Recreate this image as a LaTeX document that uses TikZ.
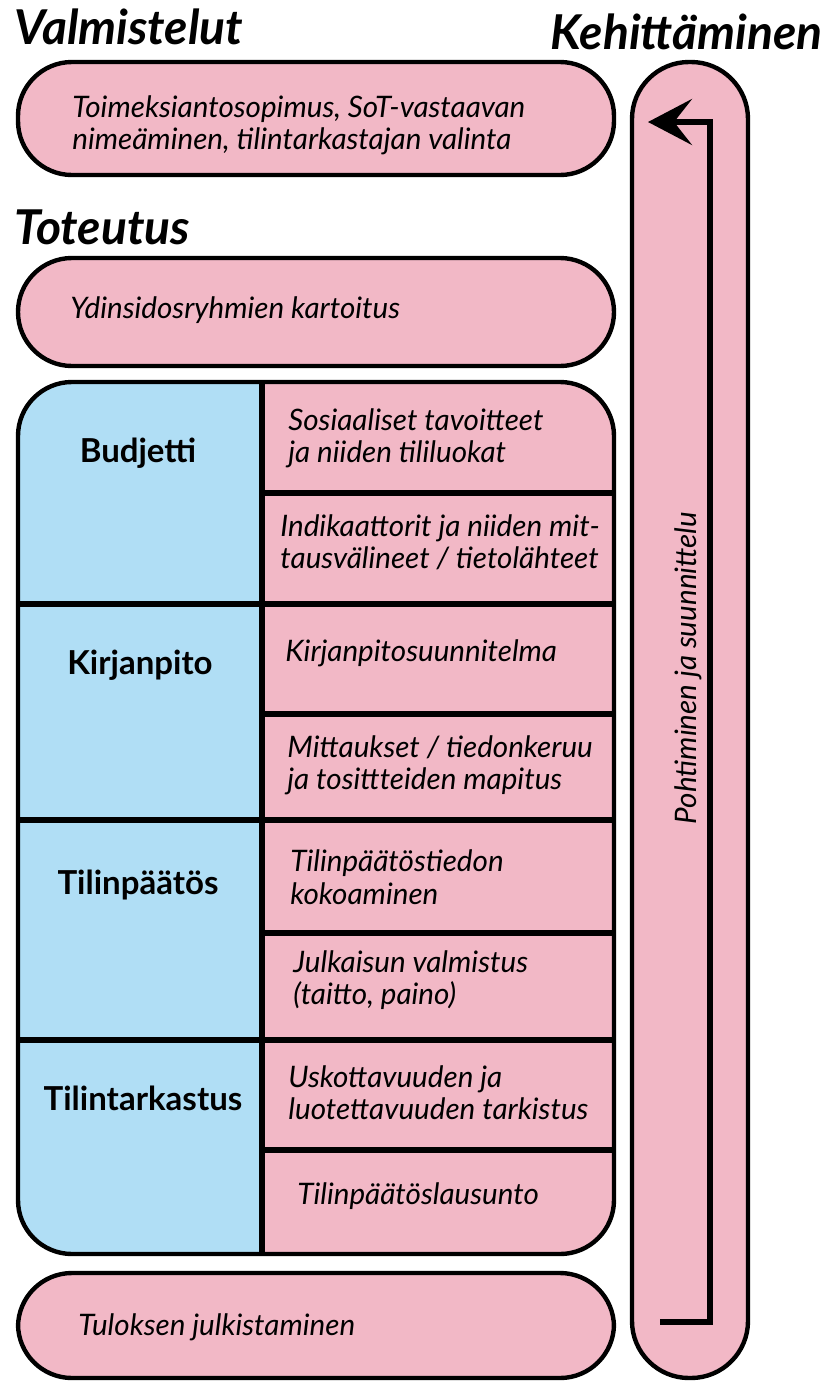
\documentclass[tikz,border=0pt]{standalone}
\usepackage{fontspec}
\setmainfont{Lato}
\usetikzlibrary{arrows.meta}
\definecolor{pinkf}{HTML}{F2B8C6}
\definecolor{bluef}{HTML}{B0DEF5}
\begin{document}
\begin{tikzpicture}[x=0.5pt,y=-0.5pt,
  heading/.style={font=\fontsize{24}{28}\selectfont\bfseries\itshape, inner sep=0pt, anchor=base west},
  itxt/.style={font=\fontsize{14.8}{16.2}\selectfont\itshape, align=left, inner sep=0pt, anchor=west},
  btxt/.style={font=\fontsize{16.5}{18}\selectfont\bfseries, inner sep=0pt},
  pill/.style={draw, line width=2.2pt, fill=pinkf, rounded corners=27pt},
  divider/.style={line width=2.8pt},
]
\useasboundingbox (0,0) rectangle (830,1382);

% headings
\node[heading] (hV) at (14,44) {Valmistelut};
\node[heading] (hT) at (14,244) {Toteutus};
\node[heading, anchor=base east] (hK) at (823,49) {Kehittäminen};

% right rail
\draw[pill, rounded corners=28.5pt] (632,62) rectangle (748,1378);
\coordinate (arrS) at (660,1322);
\coordinate (arrC1) at (710,1322);
\coordinate (arrC2) at (710,122);
\coordinate (arrT) at (648,122);
\draw[line width=2.6pt, -{Stealth[length=22pt,width=23pt,inset=9pt]}] (arrS) -- (arrC1) -- (arrC2) -- (arrT);
\node[font=\fontsize{14.8}{16}\selectfont\itshape, rotate=90, inner sep=0pt] (pohd) at (688,668) {Pohtiminen ja suunnittelu};

% preparation box
\draw[pill] (18,62) rectangle (614,175);
\node[itxt] (valm) at (72,125) {Toimeksiantosopimus, SoT-vastaavan\\nimeäminen, tilintarkastajan valinta};

% core stakeholders
\draw[pill] (18,258) rectangle (614,366);
\node[itxt] (ydin) at (70,310) {Ydinsidosryhmien kartoitus};

% big table
\begin{scope}
  \clip[rounded corners=27pt] (18,382) rectangle (614,1254);
  \fill[pinkf] (18,382) rectangle (614,1254);
  \fill[bluef] (18,382) rectangle (262,1254);
\end{scope}
\draw[divider] (262,382) -- (262,1254);
\foreach \yy in {604,820,1040} \draw[divider] (18,\yy) -- (614,\yy);
\foreach \yy in {493,714,933,1150} \draw[divider] (262,\yy) -- (614,\yy);
\draw[line width=2.2pt, rounded corners=27pt] (18,382) rectangle (614,1254);

% row labels
\node[btxt] (bud) at (138,453) {Budjetti};
\node[btxt] (kir) at (140,665) {Kirjanpito};
\node[btxt] (tpt) at (138,885) {Tilinpäätös};
\node[btxt] (tta) at (143,1098) {Tilintarkastus};

% cells
\node[itxt] (c1) at (288,438) {Sosiaaliset tavoitteet\\ja niiden tililuokat};
\node[itxt] (c2) at (280,542) {Indikaattorit ja niiden mit-\\tausvälineet / tietolähteet};
\node[itxt] (c3) at (285,653) {Kirjanpitosuunnitelma};
\node[itxt] (c4) at (287,765) {Mittaukset / tiedonkeruu\\ja tosittteiden mapitus};
\node[itxt] (c5) at (290,877) {Tilinpäätöstiedon\\kokoaminen};
\node[itxt] (c6) at (293,980) {Julkaisun valmistus\\(taitto, paino)};
\node[itxt] (c7) at (288,1093) {Uskottavuuden ja\\luotettavuuden tarkistus};
\node[itxt] (c8) at (297,1196) {Tilinpäätöslausunto};

% publication box
\draw[pill] (18,1273) rectangle (614,1378);
\node[itxt] (tulos) at (78,1327) {Tuloksen julkistaminen};
\end{tikzpicture}
\end{document}
